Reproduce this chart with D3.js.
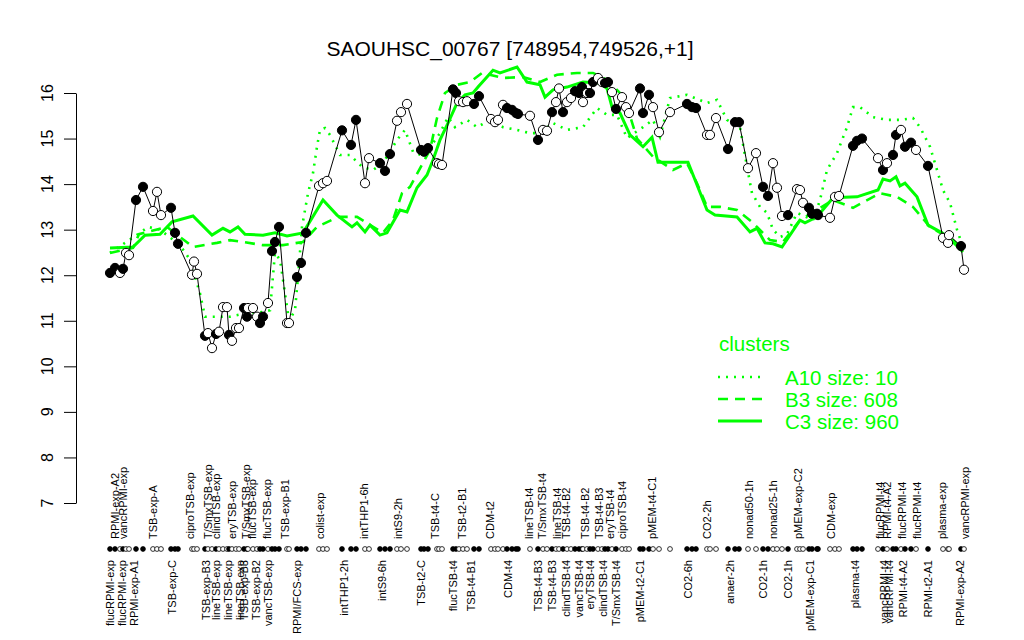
<!DOCTYPE html>
<html>
<head>
<meta charset="utf-8">
<script src="https://cdn.jsdelivr.net/npm/d3@7"></script>
<style>
  body { margin: 0; background: #fff; }
  svg { font-family: "Liberation Sans", Arial, Helvetica, sans-serif; }
</style>
</head>
<body>
<svg width="1024" height="640"></svg>
<script>
// expression per condition (position along the array, log2 value, filled marker)
const pointPos = [2, 3, 4, 4.6, 5.2, 5.8, 7.2, 8.6, 10.6, 11.4, 12.2, 14.2, 15, 15.6, 18.4, 18.8, 19.4,
  21, 21.6, 22.4, 23.2, 23.8, 24.6, 25.4, 25.8, 26.4, 27.2, 27.8, 28.8, 29.4, 29.6, 30.6, 31.4, 32, 32.6,
  33.6, 34.4, 35, 35.8, 37.4, 37.8, 39.4, 40.2, 41.2, 43.8, 44.6, 45.4, 48.4, 50.2, 51.2, 53, 53.8, 56,
  57, 58, 59.4, 60.2, 61.4, 64.2, 64.8, 65.6, 67.4, 67.8, 68.4, 70.6, 71.2, 71.8, 72.6, 73.4, 74.8, 75.8,
  78.2, 79, 79.6, 80.6, 81.4, 82.4, 83.2, 83.6, 86, 87.6, 88.6, 89.4, 90.4, 91.2, 91.8, 92.6, 93.4, 94.2,
  95, 95.8, 96.4, 96.6, 97.4, 98, 98.6, 99.6, 100.4, 101, 101.6, 102.4, 103.2, 104.4, 105.2, 105.8, 108,
  108.6, 109.8, 110.6, 111.8, 114, 117.4, 118.4, 119.2, 121.4, 122, 123.2, 125.6, 127, 127.8, 129.6,
  131.2, 132.6, 133.6, 134.6, 135.4, 136.4, 137.6, 139.4, 140, 140.6, 141.8, 142.4, 143.4, 143.6, 146,
  147, 147.8, 150.6, 151.4, 152.4, 155.6, 156.6, 157.4, 158.6, 159.2, 160.2, 161, 162.2, 163.2, 165.6,
  168.6, 169.6, 169.8, 172.2, 172.8];
const pointExpr = [12.05, 12.16, 12.05, 12.14, 12.49, 12.44, 13.65, 13.94, 13.41, 13.83, 13.32, 13.48,
  12.93, 12.69, 12.01, 12.30, 12.03, 10.67, 10.73, 10.40, 10.71, 10.76, 11.30, 11.30, 10.69, 10.56, 10.84,
  10.84, 11.28, 11.09, 11.28, 11.28, 11.09, 10.95, 11.09, 11.39, 12.53, 12.73, 13.06, 10.95, 10.95, 11.96,
  12.27, 12.93, 13.96, 14.02, 14.07, 15.18, 14.86, 15.41, 14.02, 14.57, 14.46, 14.29, 14.66, 15.39, 15.58,
  15.76, 14.75, 14.71, 14.79, 14.46, 14.44, 14.42, 16.08, 16.0, 15.82, 15.8, 15.82, 15.76, 15.93, 15.43,
  15.36, 15.41, 15.74, 15.67, 15.63, 15.56, 15.54, 15.5, 14.97, 15.19, 15.17, 15.58, 15.8, 16.1, 15.58,
  15.8, 15.89, 16.04, 16.0, 16.13, 15.8, 16.0, 16.0, 16.24, 16.33, 16.24, 16.22, 16.24, 16.02, 15.65,
  15.91, 15.69, 15.56, 16.1, 15.56, 15.96, 15.69, 15.14, 15.58, 15.76, 15.69, 15.67, 15.08, 15.08, 15.45,
  14.77, 15.36, 15.36, 14.35, 14.68, 13.94, 13.74, 14.46, 13.92, 13.30, 13.32, 13.89, 13.87, 13.59,
  13.48, 13.35, 13.35, 13.32, 13.26, 13.72, 13.74, 14.84, 14.95, 15.0, 14.57, 14.31, 14.46, 14.64, 15.08,
  15.19, 14.82, 14.91, 14.75, 14.40, 12.82, 12.71, 12.88, 12.64, 12.12];
const pointFilled = [1, 1, 0, 1, 0, 0, 1, 1, 0, 0, 0, 1, 1, 1, 0, 0, 0, 1, 0, 0, 1, 0, 0, 0, 1, 0, 0,
  0, 1, 1, 0, 0, 0, 1, 1, 0, 1, 1, 1, 0, 0, 1, 1, 1, 0, 0, 0, 1, 1, 1, 0, 0, 1, 1, 1, 0, 0, 0, 1, 1, 1,
  0, 0, 0, 1, 1, 0, 0, 0, 1, 1, 0, 0, 0, 0, 1, 1, 1, 1, 0, 1, 0, 0, 1, 0, 0, 1, 0, 0, 1, 1, 1, 0, 0, 1,
  1, 0, 0, 1, 1, 0, 1, 0, 0, 0, 1, 1, 1, 0, 0, 0, 1, 1, 1, 0, 0, 0, 1, 1, 1, 0, 0, 1, 1, 0, 0, 0, 1, 0,
  0, 0, 1, 1, 1, 1, 0, 0, 0, 1, 1, 1, 0, 1, 0, 1, 1, 0, 1, 1, 0, 1, 0, 0, 0, 1, 0];

// condition names shown below / above the marker row
const bottomLabels = ["flucRPMI-exp", "flucRPMI-exp", "RPMI-exp-A1", "TSB-exp-C", "TSB-exp-B3",
  "lineTSB-exp", "lineTSB-exp", "lineTSB-exp", "TSB-exp-B3", "TSB-exp-B2", "vancTSB-exp", "RPMI/FCS-exp",
  "intTHP1-2h", "intS9-6h", "TSB-t2-C", "flucTSB-t4", "TSB-t4-B1", "CDM-t4", "TSB-t4-B3", "TSB-t4-B3",
  "clindTSB-t4", "vancTSB-t4", "eryTSB-t4", "clindTSB-t4", "T/SmxTSB-t4", "pMEM-t2-C1", "CO2-6h",
  "anaer-2h", "CO2-1h", "CO2-1h", "pMEM-exp-C1", "plasma-t4", "vancRPMI-t4", "vancRPMI-t4",
  "RPMI-t4-A2", "RPMI-t2-A1", "RPMI-exp-A2"];
const bottomLabelPos = [2, 4.4, 6.8, 14.4, 21.2, 23.2, 25.6, 28, 28.8, 31.2, 33.6, 39.4, 48.8, 56.4,
  64.2, 70.6, 74.2, 81.6, 87.6, 90.4, 93.2, 95.8, 98, 100.6, 103.2, 108, 117.6, 126, 132.6, 137.6, 142,
  151, 156.8, 157.8, 160.6, 165.6, 172];
const topLabels = ["RPMI-exp-A2", "vancRPMI-exp", "TSB-exp-A", "ciproTSB-exp", "T/SmxTSB-exp",
  "clindTSB-exp", "eryTSB-exp", "T/SmxTSB-exp", "flucTSB-exp", "flucTSB-exp", "TSB-exp-B1", "colist-exp",
  "intTHP1-6h", "intS9-2h", "TSB-t4-C", "TSB-t2-B1", "CDM-t2", "lineTSB-t4", "T/SmxTSB-t4", "lineTSB-t4",
  "TSB-t4-B2", "TSB-t4-B2", "TSB-t4-B3", "eryTSB-t4", "ciproTSB-t4", "pMEM-t4-C1", "CO2-2h",
  "nonad50-1h", "nonad25-1h", "pMEM-exp-C2", "CDM-exp", "flucRPMI-t4", "RPMI-t4-A2", "flucRPMI-t4",
  "flucRPMI-t4", "plasma-exp", "vancRPMI-exp"];
const topLabelPos = [3, 4.6, 10.6, 18, 21.6, 23.2, 26.4, 29.2, 30.4, 33.4, 37, 44, 52.8, 59.6, 67,
  72.4, 78, 85.8, 88.4, 91.4, 93.2, 97, 99.8, 102, 104.4, 110.4, 121.4, 129.8, 134.6, 139.6, 146.2, 156,
  157.4, 160.4, 163.4, 168.4, 173];

// cluster profiles
const clusterNames = ["A10 size: 10", "B3 size: 608", "C3 size: 960"];
const a10Pos = [2, 8, 9.6, 12, 16, 18, 20, 21, 23.4, 26, 29.4, 31.4, 34, 35, 36, 37, 37.8, 39, 39.6,
  40.4, 41.6, 42.6, 43.4, 44, 45, 46, 48, 50, 52.4, 54.6, 56.6, 59.4, 61, 62.6, 65, 66.6, 68, 69.6, 71,
  73.4, 75.4, 78, 80.6, 83.4, 86, 88, 90.6, 93.4, 96.6, 99.4, 101.4, 103.4, 105.4, 108.6, 110.6, 112, 114,
  117.4, 121.4, 123.4, 125.4, 128, 129.4, 130.4, 132, 133.4, 134.6, 136, 137.4, 139.4, 142.6, 144, 145.4,
  147.4, 149.4, 150.6, 152, 154.6, 157.4, 160, 162.6, 164, 166, 167.4, 168.6, 170, 171.4, 172.6];
const a10Val = [12.49, 12.93, 13.06, 13.0, 12.66, 12.34, 11.6, 11.09, 11.09, 11.09, 11.17, 11.17, 11.23,
  12.49, 12.34, 11.6, 11.0, 11.23, 11.96, 13.06, 13.8, 14.24, 14.82, 15.19, 15.23, 15.08, 14.64, 14.64,
  14.38, 14.31, 14.46, 14.97, 15.19, 14.71, 14.6, 14.9, 15.12, 15.47, 15.25, 15.41, 15.25, 15.41, 15.25,
  15.19, 15.12, 15.12, 15.34, 15.19, 15.25, 15.67, 15.52, 15.52, 15.01, 15.25, 15.41, 15.04, 15.89, 15.96,
  15.78, 15.85, 15.41, 15.25, 14.38, 13.8, 13.5, 13.37, 13.0, 12.84, 12.9, 13.37, 13.21, 13.65, 14.31,
  14.68, 15.25, 15.69, 15.69, 15.47, 15.41, 15.41, 15.45, 15.25, 14.82, 14.31, 13.87, 13.59, 13.0, 12.62];
const b3Pos = [2, 6.6, 7.8, 13.4, 16, 18.6, 23.4, 26, 28.6, 32.6, 36.6, 40.6, 43.4, 47.6, 51.4, 56.6,
  58.6, 60.4, 62, 66, 67.4, 69, 71.4, 74, 76.4, 80.6, 84.6, 88, 91.4, 95.4, 98.6, 101.4, 104, 106, 107.4,
  110.6, 114.6, 117.4, 119.4, 121.4, 124, 127.4, 130.6, 134, 136.6, 140, 146.6, 150.6, 156, 159.4, 162.6,
  166, 170.6, 172.6];
const b3Val = [12.49, 12.6, 12.9, 13.06, 12.84, 12.62, 12.71, 12.77, 12.73, 12.66, 12.66, 12.73, 13.06,
  13.28, 13.28, 12.93, 13.21, 13.8, 13.94, 14.75, 15.45, 16.0, 16.18, 16.24, 16.44, 16.33, 16.35, 16.24,
  16.4, 16.44, 16.44, 16.29, 16.0, 15.5, 15.0, 14.6, 14.31, 14.46, 14.02, 13.5, 13.5, 13.43, 13.15, 12.77,
  12.73, 13.21, 13.65, 13.48, 13.8, 13.72, 13.5, 13.06, 12.77, 12.55];
const c3Pos = [2, 6.6, 9, 12, 14.4, 18.6, 22.4, 24.6, 26, 27.6, 29, 32.6, 35, 37.4, 40.6, 44.6, 47.4,
  50.4, 51.4, 53, 54, 56, 57.4, 60, 61.4, 63.4, 65.4, 66.6, 68, 69.6, 71.4, 73, 74.6, 75.6, 78.6, 80,
  83.4, 85.4, 88, 89, 90.6, 93.4, 96.6, 100, 101.4, 102.4, 104, 106, 108.6, 110.4, 111.6, 117.6, 121.4,
  123, 127.4, 130, 131.4, 133, 134.6, 136.4, 140, 141, 143.4, 146.6, 151.4, 155.6, 156.6, 158, 159.2, 160,
  161, 163.4, 165.6, 168.4, 170.6, 172.6];
const c3Val = [12.6, 12.62, 12.88, 12.9, 13.17, 13.3, 12.88, 13.03, 12.95, 13.06, 12.9, 12.88, 12.93,
  12.86, 12.93, 13.65, 13.32, 13.06, 13.15, 12.95, 13.1, 12.88, 12.93, 13.43, 13.39, 13.92, 14.2, 14.53,
  14.97, 15.34, 15.78, 15.96, 16.0, 16.13, 16.5, 16.44, 16.57, 16.24, 16.18, 15.91, 16.07, 16.13, 16.24,
  16.22, 16.1, 15.69, 15.56, 15.08, 14.82, 15.03, 14.48, 14.48, 13.43, 13.32, 13.28, 12.95, 13.03, 12.71,
  12.69, 12.62, 13.21, 13.15, 13.28, 13.7, 13.72, 13.87, 14.11, 14.07, 14.16, 13.96, 14.02, 13.72, 13.1,
  12.93, 12.73, 12.51];
const yTicks = [7, 8, 9, 10, 11, 12, 13, 14, 15, 16];

const green = "#00ff00";
const svg = d3.select("svg");

const x = d3.scaleLinear().domain([0, 175]).range([100, 975]);
const y = d3.scaleLinear().domain([7, 16]).range([503, 93]);

// title
svg.append("text")
  .attr("x", 510).attr("y", 56)
  .attr("text-anchor", "middle")
  .attr("font-size", 21)
  .text("SAOUHSC_00767 [748954,749526,+1]");

// y axis
const yAxis = svg.append("g")
  .attr("transform", "translate(76,0)")
  .call(d3.axisLeft(y).tickValues(yTicks).tickSize(12).tickSizeOuter(0).tickFormat(""));
yAxis.select(".domain").attr("stroke", "#000");
yAxis.selectAll("line").attr("stroke", "#000");

svg.selectAll(".ylab")
  .data(yTicks)
  .enter()
  .append("text")
  .attr("class", "ylab")
  .attr("transform", d => "translate(53," + y(d) + ") rotate(-90)")
  .attr("text-anchor", "middle")
  .attr("font-size", 16)
  .text(d => d);

// cluster lines
const clusters = [
  { pos: a10Pos, val: a10Val, dash: "2,6", width: 2.6 },
  { pos: b3Pos, val: b3Val, dash: "10,7", width: 2.6 },
  { pos: c3Pos, val: c3Val, dash: null, width: 3 }
];
const line = d3.line().x(d => x(d[0])).y(d => y(d[1]));

clusters.forEach(c => {
  svg.append("path")
    .datum(c.pos.map((p, i) => [p, c.val[i]]))
    .attr("d", line)
    .attr("fill", "none")
    .attr("stroke", green)
    .attr("stroke-width", c.width)
    .attr("stroke-dasharray", c.dash);
});

// expression profile
const pts = pointPos.map((p, i) => ({ pos: p, v: pointExpr[i], f: pointFilled[i] }));

svg.append("path")
  .datum(pts.map(d => [d.pos, d.v]))
  .attr("d", line)
  .attr("fill", "none")
  .attr("stroke", "#000")
  .attr("stroke-width", 1);

svg.selectAll(".pt")
  .data(pts)
  .enter()
  .append("circle")
  .attr("class", "pt")
  .attr("cx", d => x(d.pos))
  .attr("cy", d => y(d.v))
  .attr("r", 4.6)
  .attr("fill", d => d.f ? "#000" : "#fff")
  .attr("stroke", "#000")
  .attr("stroke-width", 1);

// marker row
svg.selectAll(".rug")
  .data(pts)
  .enter()
  .append("circle")
  .attr("class", "rug")
  .attr("cx", d => x(d.pos))
  .attr("cy", 549)
  .attr("r", 2.4)
  .attr("fill", d => d.f ? "#000" : "#fff")
  .attr("stroke", "#000")
  .attr("stroke-width", 0.8);

// condition labels
svg.selectAll(".blab")
  .data(bottomLabels)
  .enter()
  .append("text")
  .attr("class", "blab")
  .attr("transform", (d, i) => "translate(" + (x(bottomLabelPos[i]) + 4) + ",560) rotate(-90)")
  .attr("text-anchor", "end")
  .attr("font-size", 11)
  .text(d => d);

svg.selectAll(".tlab")
  .data(topLabels)
  .enter()
  .append("text")
  .attr("class", "tlab")
  .attr("transform", (d, i) => "translate(" + (x(topLabelPos[i]) + 4) + ",539) rotate(-90)")
  .attr("text-anchor", "start")
  .attr("font-size", 11)
  .text(d => d);

// legend
const legend = svg.append("g").attr("transform", "translate(718,0)");
legend.append("text")
  .attr("x", 1).attr("y", 351)
  .attr("fill", green)
  .attr("font-size", 20.5)
  .text("clusters");

legend.selectAll(".leg")
  .data(clusterNames)
  .enter()
  .append("g")
  .attr("class", "leg")
  .each(function (d, i) {
    const g = d3.select(this);
    const yy = 377 + i * 22;
    g.append("line")
      .attr("x1", 0).attr("x2", 44)
      .attr("y1", yy).attr("y2", yy)
      .attr("stroke", green)
      .attr("stroke-width", clusters[i].width)
      .attr("stroke-dasharray", clusters[i].dash);
    g.append("text")
      .attr("x", 67).attr("y", yy + 7.5)
      .attr("fill", green)
      .attr("font-size", 20.5)
      .text(d);
  });
</script>
</body>
</html>
